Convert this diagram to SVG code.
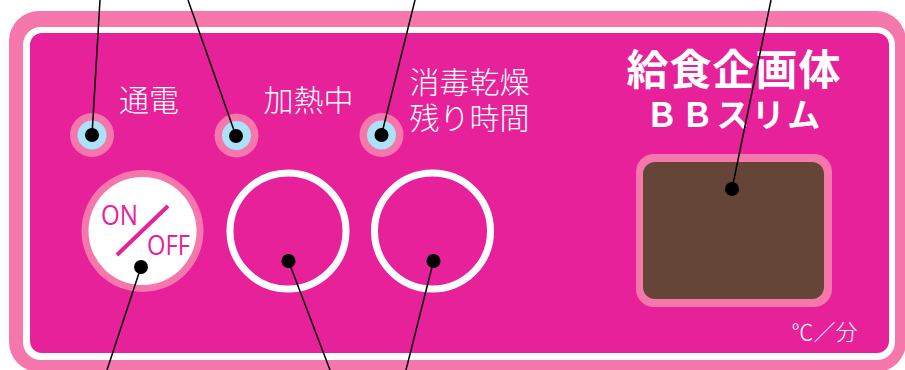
<svg xmlns="http://www.w3.org/2000/svg" width="905" height="370" viewBox="0 0 905 370">
<style>
.jp{font-family:"Noto Sans CJK JP","Noto Sans",sans-serif;fill:#ffffff;}
.lbl{font-size:30px;font-weight:300;text-anchor:middle;}
.ring{fill:#F577AC;}
.led{fill:#ABE2F7;}
.dot{fill:#000000;}
.lead{stroke:#000000;stroke-width:1.5;fill:none;}
.btn{fill:none;stroke:#ffffff;stroke-width:7;}
.onoff{font-family:"Open Sans","Liberation Sans",sans-serif;fill:#E7219A;font-size:27px;}
</style>
<rect width="905" height="370" fill="#ffffff"/>
<g id="frame">
<rect x="9" y="11" width="897" height="361" rx="30" fill="#F577AC"/>
<rect x="23" y="27" width="872" height="333" rx="18" fill="#ffffff"/>
<rect x="30" y="33" width="859" height="320" rx="12" fill="#E7219A"/>
</g>
<g id="title">
<text class="jp" x="734" y="85" font-size="42" font-weight="700" text-anchor="middle" letter-spacing="1">給食企画体</text>
<text class="jp" x="734" y="127" font-size="33" font-weight="700" text-anchor="middle" letter-spacing="2.5">ＢＢスリム</text>
</g>
<g id="led-power">
<circle class="ring" cx="92" cy="135" r="22"/>
<circle class="led" cx="92" cy="135" r="14.5"/>
<text class="jp lbl" x="149" y="111">通電</text>
</g>
<g id="led-heating">
<circle class="ring" cx="236.5" cy="135.5" r="22"/>
<circle class="led" cx="236.5" cy="135.5" r="14.5"/>
<text class="jp lbl" x="308.5" y="111">加熱中</text>
</g>
<g id="led-dry">
<circle class="ring" cx="381.5" cy="135" r="22"/>
<circle class="led" cx="381.5" cy="135" r="14.5"/>
<text class="jp lbl" x="469.5" y="93">消毒乾燥</text>
<text class="jp lbl" x="469.5" y="129">残り時間</text>
</g>
<g id="btn-onoff">
<circle class="ring" cx="142.5" cy="231" r="61"/>
<circle cx="142.5" cy="231" r="54" fill="#ffffff"/>
<text class="onoff" x="101" y="225" textLength="37" lengthAdjust="spacingAndGlyphs">ON</text>
<text class="onoff" x="147" y="255" textLength="43" lengthAdjust="spacingAndGlyphs">OFF</text>
<line x1="117" y1="255" x2="168" y2="206" stroke="#E7219A" stroke-width="4"/>
</g>
<g id="btn-2">
<circle class="btn" cx="288" cy="231" r="58"/>
</g>
<g id="btn-3">
<circle class="btn" cx="432.5" cy="231" r="58"/>
</g>
<g id="display">
<rect x="636" y="154" width="196" height="153" rx="18" fill="#F577AC"/>
<rect x="643" y="162" width="181" height="137" rx="12" fill="#654537"/>
<text class="jp" x="824.5" y="340" font-size="22" font-weight="300" text-anchor="middle">℃／分</text>
</g>
<g id="connectors">
<line class="lead" x1="92" y1="135" x2="100" y2="0"/>
<line class="lead" x1="236" y1="136" x2="188" y2="0"/>
<line class="lead" x1="381.5" y1="135" x2="415" y2="0"/>
<line class="lead" x1="732" y1="189" x2="771" y2="0"/>
<line class="lead" x1="141" y1="267" x2="107" y2="370"/>
<line class="lead" x1="288.5" y1="261" x2="330" y2="370"/>
<line class="lead" x1="433.5" y1="261" x2="406" y2="370"/>
<circle class="dot" cx="92" cy="135" r="7"/>
<circle class="dot" cx="236" cy="136" r="7"/>
<circle class="dot" cx="381.5" cy="135" r="7"/>
<circle class="dot" cx="732" cy="189" r="7"/>
<circle class="dot" cx="141" cy="267" r="7"/>
<circle class="dot" cx="288.5" cy="261" r="7"/>
<circle class="dot" cx="433.5" cy="261" r="7"/>
</g>
</svg>
